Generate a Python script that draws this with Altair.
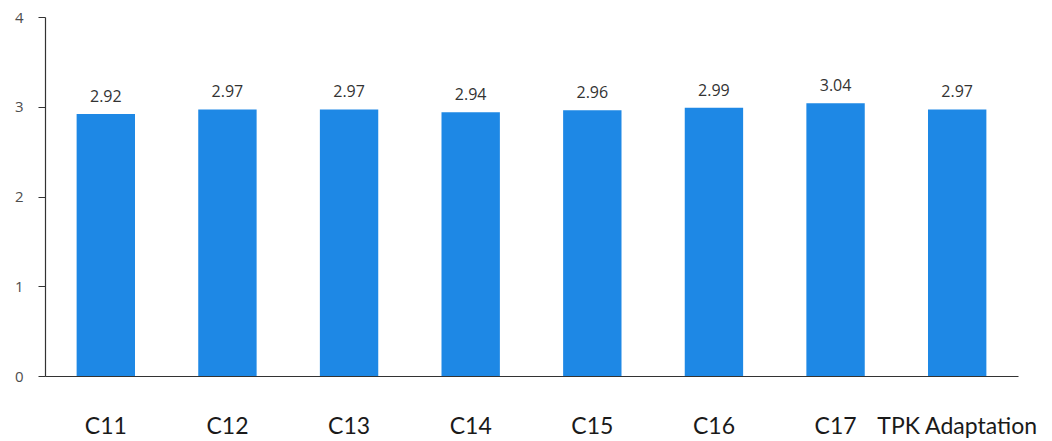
import altair as alt
import pandas as pd

categories = ["C11", "C12", "C13", "C14", "C15", "C16", "C17", "TPK Adaptation"]
scores = [2.92, 2.97, 2.97, 2.94, 2.96, 2.99, 3.04, 2.97]

df = pd.DataFrame({"category": categories, "score": scores})

x = alt.X(
    "category:N",
    sort=categories,
    title=None,
    scale=alt.Scale(paddingInner=0.52, paddingOuter=0.26),
    axis=alt.Axis(
        labelAngle=0,
        labelFont="Lato",
        labelFontSize=23,
        labelColor="#1a1a1a",
        labelPadding=39,
        ticks=False,
        domainColor="#333333",
        domainWidth=1.2,
        labelBaseline="top",
    ),
)
y = alt.Y(
    "score:Q",
    title=None,
    scale=alt.Scale(domain=[0, 4], nice=False),
    axis=alt.Axis(
        values=[0, 1, 2, 3, 4],
        format="d",
        grid=False,
        labelFont="Open Sans",
        labelFontSize=15,
        labelColor="#4d4d4d",
        labelPadding=15,
        tickSize=7,
        tickColor="#333333",
        domainColor="#333333",
        domainWidth=1.2,
    ),
)

bars = alt.Chart(df).mark_bar(color="#1E88E5").encode(x=x, y=y)

labels = alt.Chart(df).mark_text(
    dy=-9,
    baseline="bottom",
    font="Open Sans",
    fontSize=16,
    color="#333333",
).encode(
    x=alt.X("category:N", sort=categories),
    y=alt.Y("score:Q"),
    text=alt.Text("score:Q", format=".2f"),
)

chart = (
    alt.layer(bars, labels)
    .properties(
        width=973,
        height=359,
        autosize=alt.AutoSizeParams(type="none"),
        padding={"left": 45, "top": 17, "right": 34, "bottom": 65},
        background="white",
    )
    .configure_view(stroke=None)
)

chart.save("out.html", embed_options={"renderer": "svg", "actions": False})
